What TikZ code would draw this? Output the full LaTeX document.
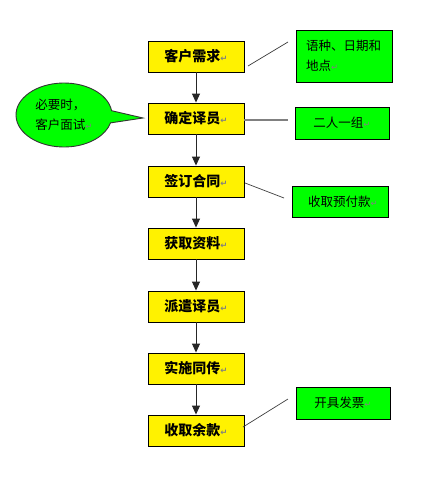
\documentclass[tikz,border=0pt]{standalone}
\usepackage{fontspec}
\usetikzlibrary{arrows.meta,shapes.callouts,shapes.geometric}
\newfontfamily\cjk{Noto Sans CJK SC}
\newfontfamily\symfont{DejaVu Sans}
\newcommand\parmk{{\symfont\color{gray}\fontsize{8.5}{8.5}\selectfont ↵}}
\tikzset{
  stepbox/.style={draw=black,line width=0.9pt,fill=yellow,minimum width=96pt,minimum height=31pt,inner sep=0pt,font=\cjk\bfseries\fontsize{14}{16}\selectfont},
  notebox/.style={draw=black,line width=0.9pt,fill=green,inner sep=0pt,font=\cjk\fontsize{12.5}{20}\selectfont},
  arr/.style={draw=black!85,line width=1pt,-{Triangle[width=8pt,length=9pt]}},
  thinline/.style={draw=black!75,line width=0.7pt},
}
\begin{document}
\begin{tikzpicture}[x=1pt,y=-1pt]
\useasboundingbox (0,0) rectangle (426,485);
\fill[white] (0,0) rectangle (426,485);
% main steps
\node[stepbox] (s1) at (196,56.5) {客户需求\parmk};
\node[stepbox] (s2) at (196,118.5) {确定译员\parmk};
\node[stepbox] (s3) at (196,181.5) {签订合同\parmk};
\node[stepbox] (s4) at (196,243.5) {获取资料\parmk};
\node[stepbox] (s5) at (196,306.5) {派遣译员\parmk};
\node[stepbox] (s6) at (196,368.5) {实施同传\parmk};
\node[stepbox] (s7) at (196,430.5) {收取余款\parmk};
\foreach \a/\b in {s1/s2,s2/s3,s3/s4,s4/s5,s5/s6,s6/s7}
  \draw[arr] (\a) -- (\b);
% notes
\node[notebox,minimum width=96pt,minimum height=52pt,align=left,text width=76pt] (g1) at (344,56) {语种、日期和\\地点\parmk};
\node[notebox,minimum width=94pt,minimum height=32pt] (g2) at (342,123) {二人一组\parmk};
\node[notebox,minimum width=96pt,minimum height=31pt] (g3) at (340,201.5) {\hspace{6pt}收取预付款\parmk};
\node[notebox,minimum width=94pt,minimum height=32pt] (g4) at (343,403) {开具发票\parmk};
% note connectors
\coordinate (l1a) at (248,66); \coordinate (l1b) at (288,42);
\coordinate (l2b) at (288,120);
\coordinate (l3a) at (245,183); \coordinate (l3b) at (284,198);
\coordinate (l4a) at (243,427); \coordinate (l4b) at (288,399);
\draw[thinline] (l1a) -- (l1b);
\draw[draw=gray,line width=1.3pt] (s2.east |- l2b) -- (l2b);
\draw[thinline] (l3a) -- (l3b);
\draw[thinline] (l4a) -- (l4b);
% callout
\node[ellipse callout,draw=black!80,line width=0.9pt,fill=green,minimum width=96pt,minimum height=64pt,inner sep=0pt,
  callout absolute pointer={(143,118)},callout pointer arc=22,
  align=left,font=\cjk\fontsize{12.5}{20}\selectfont] (c1) at (64,115) {必要时，\\客户面试\parmk};
\end{tikzpicture}
\end{document}
